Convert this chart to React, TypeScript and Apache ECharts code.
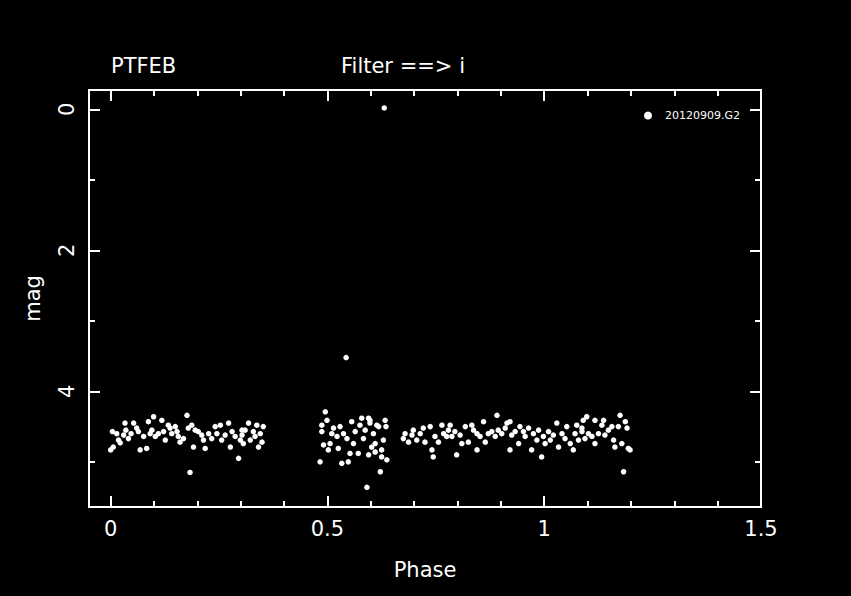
import React, { useEffect, useRef } from "react";
import * as echarts from "echarts";

const seriesName = "20120909.G2";
const titleLeft = "PTFEB";
const titleRight = "Filter ==> i";
const xName = "Phase";
const yName = "mag";

const xMajorTicks = [0, 0.5, 1, 1.5];
const xMinorTicks = [0.1, 0.2, 0.3, 0.4, 0.6, 0.7, 0.8, 0.9, 1.1, 1.2, 1.3, 1.4];
const yMajorTicks = [0, 2, 4];
const yMinorTicks = [1, 3, 5];

// Phase segment 1 (0 - 0.35)
const phase1 = [0.0, 0.006, 0.004, 0.014, 0.018, 0.022, 0.030, 0.033, 0.035, 0.041, 0.047, 0.053, 0.060, 0.064, 0.068, 0.076, 0.083, 0.087, 0.091, 0.095, 0.099, 0.103, 0.110, 0.118, 0.122, 0.126, 0.133, 0.137, 0.141, 0.149, 0.153, 0.156, 0.160, 0.168, 0.176, 0.179, 0.187, 0.191, 0.195, 0.202, 0.210, 0.214, 0.218, 0.226, 0.233, 0.241, 0.245, 0.253, 0.256, 0.264, 0.272, 0.276, 0.280, 0.287, 0.295, 0.299, 0.303, 0.183, 0.303, 0.310, 0.318, 0.322, 0.329, 0.333, 0.337, 0.341, 0.345, 0.349, 0.352, 0.306];
const mag1 = [4.83, 4.79, 4.57, 4.60, 4.69, 4.73, 4.62, 4.45, 4.55, 4.67, 4.60, 4.45, 4.52, 4.57, 4.83, 4.64, 4.81, 4.43, 4.60, 4.55, 4.36, 4.64, 4.60, 4.41, 4.57, 4.69, 4.48, 4.52, 4.60, 4.50, 4.57, 4.64, 4.72, 4.67, 4.34, 4.52, 4.48, 4.79, 4.55, 4.57, 4.62, 4.69, 4.81, 4.60, 4.67, 4.50, 4.60, 4.48, 4.69, 4.62, 4.45, 4.79, 4.57, 4.64, 4.95, 4.69, 4.55, 5.15, 4.62, 4.55, 4.45, 4.69, 4.57, 4.64, 4.48, 4.79, 4.60, 4.72, 4.50, 4.74];

// Phase segment 2 (0.48 - 0.64)
const phase2 = [0.483, 0.487, 0.487, 0.495, 0.499, 0.491, 0.502, 0.506, 0.510, 0.514, 0.522, 0.525, 0.529, 0.533, 0.537, 0.545, 0.548, 0.552, 0.556, 0.560, 0.564, 0.571, 0.575, 0.579, 0.583, 0.587, 0.595, 0.598, 0.602, 0.606, 0.610, 0.614, 0.595, 0.598, 0.610, 0.618, 0.622, 0.625, 0.629, 0.633, 0.635, 0.637, 0.625, 0.591, 0.543, 0.631];
const mag2 = [5.0, 4.48, 4.57, 4.29, 4.41, 4.76, 4.83, 4.74, 4.60, 4.52, 4.64, 4.81, 4.50, 5.02, 4.60, 4.67, 5.0, 4.88, 4.43, 4.74, 4.57, 4.88, 4.48, 4.38, 4.67, 4.55, 4.90, 4.41, 4.79, 4.60, 4.86, 4.48, 4.38, 4.45, 4.74, 4.50, 5.14, 4.93, 4.69, 4.41, 4.50, 4.97, 4.83, 5.36, 3.52, -0.02];

// Phase segment 3 (0.67 - 1.2)
const phase3 = [0.675, 0.679, 0.687, 0.695, 0.698, 0.706, 0.714, 0.721, 0.725, 0.737, 0.741, 0.744, 0.748, 0.756, 0.764, 0.768, 0.775, 0.779, 0.783, 0.787, 0.794, 0.798, 0.806, 0.810, 0.818, 0.825, 0.833, 0.837, 0.845, 0.845, 0.852, 0.860, 0.864, 0.871, 0.879, 0.887, 0.891, 0.894, 0.902, 0.910, 0.914, 0.921, 0.921, 0.925, 0.933, 0.941, 0.944, 0.952, 0.956, 0.964, 0.971, 0.975, 0.983, 0.987, 0.994, 0.998, 1.002, 1.010, 1.014, 1.021, 1.029, 1.033, 1.041, 1.048, 1.052, 1.060, 1.067, 1.071, 1.079, 1.087, 1.075, 1.087, 1.090, 1.098, 1.094, 1.102, 1.110, 1.117, 1.117, 1.125, 1.133, 1.137, 1.140, 1.148, 1.156, 1.160, 1.163, 1.171, 1.175, 1.179, 1.187, 1.191, 1.194, 1.198, 1.183];
const mag3 = [4.67, 4.60, 4.72, 4.62, 4.55, 4.69, 4.60, 4.52, 4.72, 4.50, 4.83, 4.93, 4.64, 4.72, 4.48, 4.60, 4.64, 4.55, 4.48, 4.64, 4.57, 4.90, 4.62, 4.74, 4.50, 4.72, 4.48, 4.55, 4.60, 4.83, 4.64, 4.43, 4.72, 4.60, 4.57, 4.64, 4.34, 4.55, 4.60, 4.52, 4.45, 4.43, 4.83, 4.62, 4.57, 4.74, 4.50, 4.57, 4.64, 4.52, 4.83, 4.60, 4.69, 4.55, 4.93, 4.64, 4.74, 4.57, 4.69, 4.62, 4.45, 4.79, 4.60, 4.67, 4.50, 4.74, 4.83, 4.60, 4.69, 4.52, 4.48, 4.57, 4.41, 4.36, 4.67, 4.60, 4.64, 4.41, 4.74, 4.60, 4.48, 4.41, 4.62, 4.55, 4.50, 4.69, 4.79, 4.50, 4.34, 4.74, 4.43, 4.52, 4.81, 4.83, 5.14];

const FONT = "DejaVu Sans";
const WHITE = "#ffffff";

export default function App() {
  const ref = useRef<HTMLDivElement>(null);
  useEffect(() => {
    if (!ref.current) return;
    const chart = echarts.init(ref.current, null, { renderer: "svg" });
    const data: number[][] = [];
    [[phase1, mag1], [phase2, mag2], [phase3, mag3]].forEach(([p, m]) => {
      p.forEach((v, i) => data.push([v, m[i]]));
    });
    const tickStyle = { color: WHITE, width: 2 };
    const mkX = (pos: string, ticks: number[], len: number, labels: boolean) => ({
      type: "value",
      gridIndex: 0,
      position: pos,
      min: -0.05,
      max: 1.5,
      axisLine: { show: false, onZero: false },
      splitLine: { show: false },
      axisTick: { show: true, inside: true, length: len, customValues: ticks, lineStyle: tickStyle },
      axisLabel: labels
        ? { show: true, customValues: xMajorTicks, color: WHITE, fontSize: 21, fontFamily: FONT, margin: 11 }
        : { show: false },
      name: labels ? xName : "",
      nameLocation: "middle",
      nameGap: 52,
      nameTextStyle: { color: WHITE, fontSize: 21, fontFamily: FONT },
    });
    const mkY = (pos: string, ticks: number[], len: number, labels: boolean) => ({
      type: "value",
      gridIndex: 0,
      position: pos,
      inverse: true,
      min: -0.274,
      max: 5.64,
      axisLine: { show: false, onZero: false },
      splitLine: { show: false },
      axisTick: { show: true, inside: true, length: len, customValues: ticks, lineStyle: tickStyle },
      axisLabel: labels
        ? { show: true, customValues: yMajorTicks, color: WHITE, fontSize: 21, fontFamily: FONT, margin: 12, rotate: 90 }
        : { show: false },
      name: labels ? yName : "",
      nameLocation: "middle",
      nameGap: 46,
      nameRotate: 90,
      nameTextStyle: { color: WHITE, fontSize: 21, fontFamily: FONT },
    });
    chart.setOption({
      animation: false,
      backgroundColor: "#000000",
      title: [
        { text: titleLeft, left: 111, top: 55, padding: 0, textStyle: { color: WHITE, fontSize: 21, fontWeight: "normal", fontFamily: FONT } },
        { text: titleRight, left: 341, top: 55, padding: 0, textStyle: { color: WHITE, fontSize: 21, fontWeight: "normal", fontFamily: FONT } },
      ],
      legend: {
        data: [seriesName],
        left: 644,
        top: 110,
        padding: 0,
        icon: "circle",
        itemWidth: 8,
        itemHeight: 8,
        itemStyle: { color: WHITE, opacity: 1 },
        textStyle: { color: WHITE, fontSize: 11, fontFamily: FONT, padding: [0, 0, 0, 8] },
      },
      grid: {
        show: true,
        left: 89,
        top: 90,
        width: 672,
        height: 417,
        borderColor: WHITE,
        borderWidth: 2,
        backgroundColor: "#000000",
      },
      xAxis: [
        mkX("bottom", xMajorTicks, 11, true),
        mkX("bottom", xMinorTicks, 6, false),
        mkX("top", xMajorTicks, 11, false),
        mkX("top", xMinorTicks, 6, false),
      ],
      yAxis: [
        mkY("left", yMajorTicks, 11, true),
        mkY("left", yMinorTicks, 6, false),
        mkY("right", yMajorTicks, 11, false),
        mkY("right", yMinorTicks, 6, false),
      ],
      series: [
        {
          name: seriesName,
          type: "scatter",
          xAxisIndex: 0,
          yAxisIndex: 0,
          data,
          symbol: "circle",
          symbolSize: 5.5,
          itemStyle: { color: WHITE, opacity: 1 },
        },
      ],
    });
    return () => chart.dispose();
  }, []);
  return (
    <div
      ref={ref}
      style={{ position: "fixed", left: 0, top: 0, width: 851, height: 596, background: "#000" }}
    />
  );
}
